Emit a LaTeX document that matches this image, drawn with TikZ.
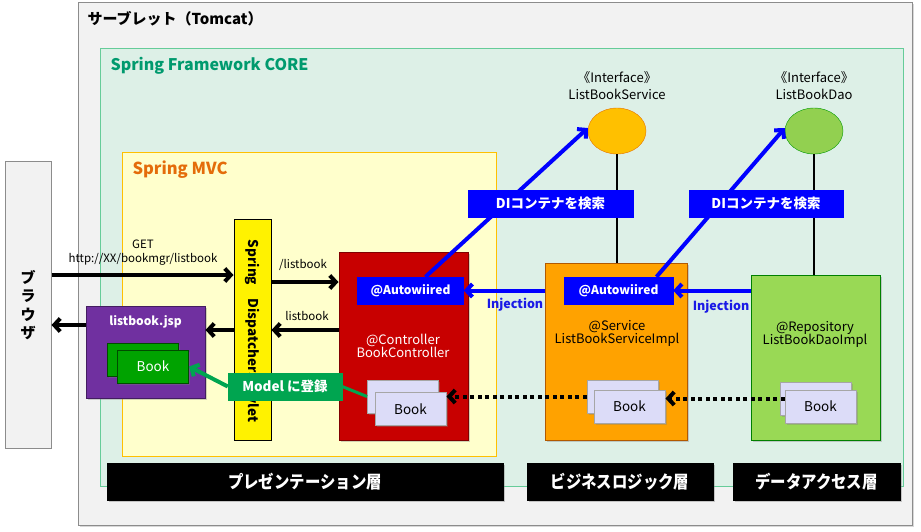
\documentclass[tikz,border=0pt]{standalone}
\usepackage{fontspec}
\setmainfont{Noto Sans CJK JP}
\newfontfamily\jpcond{Noto Sans CJK JP}[FakeStretch=0.88]
\usetikzlibrary{arrows.meta,shadows,calc,shapes.geometric}
\definecolor{outerfill}{HTML}{F2F2F2}
\definecolor{outerdraw}{HTML}{8C8C8C}
\definecolor{corefill}{HTML}{DDF0E7}
\definecolor{coredraw}{HTML}{66CC99}
\definecolor{coretext}{HTML}{009A6E}
\definecolor{mvcfill}{HTML}{FFFFCC}
\definecolor{mvcdraw}{HTML}{FFC000}
\definecolor{mvctext}{HTML}{E46C0A}
\definecolor{jspfill}{HTML}{7030A0}
\definecolor{bookgreen}{HTML}{00A300}
\definecolor{ctrlfill}{HTML}{C80000}
\definecolor{awblue}{HTML}{0000FF}
\definecolor{svcfill}{HTML}{FFA200}
\definecolor{repofill}{HTML}{99D955}
\definecolor{booklav}{HTML}{DCDCF8}
\definecolor{modelgreen}{HTML}{00A550}
\definecolor{ifsvcfill}{HTML}{FFC000}
\definecolor{ifdaofill}{HTML}{92D050}
\definecolor{injblue}{HTML}{1A1AE6}
\tikzset{
  x=1pt, y=-1pt,
  box/.style={draw, rectangle, inner sep=0pt},
  bevel/.style={box, line width=1pt, drop shadow={shadow xshift=1.5pt, shadow yshift=-1.5pt, opacity=0.35}},
  bookbox/.style={bevel, fill=booklav, draw=gray!70, minimum width=71pt, minimum height=33pt, font=\fontsize{13.5}{16}\selectfont},
  gbook/.style={bevel, fill=bookgreen, draw=green!30!black, minimum width=71pt, minimum height=33pt, text=white, font=\fontsize{13.5}{16}\selectfont},
  awbox/.style={box, fill=awblue, draw=awblue, minimum width=106pt, minimum height=27pt, text=white, font=\bfseries\fontsize{12}{15}\selectfont},
  dilabel/.style={box, fill=awblue, draw=awblue, minimum height=27pt, text=white, font=\bfseries\fontsize{13.5}{15}\selectfont},
  layer/.style={box, fill=black, draw=black, minimum height=37pt, text=white, font=\jpcond\bfseries\fontsize{17.5}{19}\selectfont, drop shadow={shadow xshift=2pt, shadow yshift=-2pt, opacity=0.4}},
  bk/.style={line width=4pt, -{Straight Barb[length=6pt, width=13pt]}},
  bluearr/.style={line width=4pt, draw=awblue, -{Straight Barb[length=6pt, width=13pt]}},
  dotarr/.style={line width=4pt, dash pattern=on 4pt off 3.5pt, -{Straight Barb[length=6pt, width=13pt]}},
  greenarr/.style={line width=4pt, draw=modelgreen, -{Straight Barb[length=6pt, width=13pt]}},
  small/.style={font=\fontsize{11.5}{13}\selectfont},
  mid/.style={font=\fontsize{13}{15}\selectfont, align=center},
}
\begin{document}
\begin{tikzpicture}
\useasboundingbox (0,0) rectangle (921,531);
\fill[white] (0,0) rectangle (921,531);
% containers
\node[box, fill=outerfill, draw=outerdraw, line width=1pt, minimum width=834pt, minimum height=523pt,
  drop shadow={shadow xshift=1.5pt, shadow yshift=-1.5pt, opacity=0.3}] (outer) at (495,263.5) {};
\node[anchor=west, font=\bfseries\fontsize{15}{17}\selectfont] (outert) at (84,19) {サーブレット（Tomcat）};
\node[box, fill=corefill, draw=coredraw, line width=1pt, minimum width=803pt, minimum height=438pt] (core) at (501.5,267) {};
\node[anchor=west, text=coretext, font=\bfseries\fontsize{16}{18}\selectfont] (coret) at (107,66) {Spring Framework CORE};
\node[box, fill=mvcfill, draw=mvcdraw, line width=1pt, minimum width=374pt, minimum height=304pt] (mvc) at (309,304) {};
\node[anchor=west, text=mvctext, font=\bfseries\fontsize{16.5}{18}\selectfont] (mvct) at (129,170) {Spring MVC};
% browser
\node[box, fill=outerfill, draw=outerdraw, line width=1pt, minimum width=46pt, minimum height=287pt] (browser) at (28,304.5) {};
\node[align=center, font=\bfseries\fontsize{15}{18.5}\selectfont] (browsert) at (28,305) {ブ\\ラ\\ウ\\ザ};
% layer labels
\node[layer, minimum width=396pt] (layer1) at (305,481.5) {プレゼンテーション層};
\node[layer, minimum width=186pt] (layer2) at (620,481.5) {ビジネスロジック層};
\node[layer, minimum width=167pt] (layer3) at (816.5,481.5) {データアクセス層};
% dispatcher
\node[box, fill=yellow, draw=black, line width=1pt, minimum width=37pt, minimum height=221pt] (disp) at (252.5,329.5) {};
\node[rotate=-90, font=\bfseries\fontsize{13.5}{15}\selectfont] (dispt) at (252.5,331) {Spring\quad DispatcherServlet};
% interfaces
\node[ellipse, draw=orange!90!black, fill=ifsvcfill, minimum width=58pt, minimum height=46pt, inner sep=0pt] (ifsvc) at (617,131) {};
\node[align=center, font=\fontsize{13}{17}\selectfont] (ifsvct) at (617,86) {《Interface》\\ListBookService};
\node[ellipse, draw=green!60!black, fill=ifdaofill, minimum width=58pt, minimum height=46pt, inner sep=0pt] (ifdao) at (814,131) {};
\node[align=center, font=\fontsize{13}{17}\selectfont] (ifdaot) at (814,86) {《Interface》\\ListBookDao};
% beans
\node[bevel, fill=ctrlfill, draw=red!50!black, minimum width=129pt, minimum height=188pt] (ctrl) at (403.5,346) {};
\node[bevel, fill=svcfill, draw=orange!70!black, minimum width=142pt, minimum height=177pt] (svc) at (616,351.5) {};
\node[bevel, fill=repofill, draw=green!50!black, minimum width=129pt, minimum height=165pt] (repo) at (815.5,357.5) {};
\node[bevel, fill=jspfill, draw=jspfill!60!black, minimum width=119pt, minimum height=92pt] (jsp) at (145.5,352) {};
\node[text=white, font=\bfseries\fontsize{12}{15}\selectfont] (jspt) at (145.5,322) {listbook.jsp};
% vertical interface lines
\draw[line width=1.5pt] (ifsvc.south) -- (ifsvc.south |- svc.north);
\draw[line width=1.5pt] (ifdao.south) -- (ifdao.south |- repo.north);
% autowired boxes
\node[awbox] (ctrlaw) at (410.5,290.5) {@Autowiired};
\node[awbox, minimum width=109pt] (svcaw) at (618.5,290.5) {@Autowiired};
% DI arrows
\draw[bluearr] ([xshift=15pt]ctrlaw.north) -- ([yshift=3pt]ifsvc.west);
\draw[bluearr] ([xshift=38pt]svcaw.north) -- ([yshift=3pt]ifdao.west);
\node[dilabel, minimum width=165pt] (di1) at (550.5,203.5) {DIコンテナを検索};
\node[dilabel, minimum width=154pt] (di2) at (766,203.5) {DIコンテナを検索};
% bean texts
\node[mid, text=white] (ctrlt) at (403,346) {@Controller\\[-2pt]BookController};
\node[mid] (svct) at (617,333) {@Service\\[-2pt]ListBookServiceImpl};
\node[mid] (repot) at (815,334) {@Repository\\[-2pt]ListBookDaoImpl};
% injection
\draw[bluearr] (svc.west |- ctrlaw.east) -- (ctrlaw.east);
\node[text=injblue, font=\bfseries\fontsize{12.5}{15}\selectfont] (inj1) at (515,305) {Injection};
\draw[bluearr] (repo.west |- svcaw.east) -- (svcaw.east);
\node[text=injblue, font=\bfseries\fontsize{12.5}{15}\selectfont] (inj2) at (721,307) {Injection};
% books
\node[gbook] (jspbookb) at (142.5,359.5) {};
\node[gbook] (jspbookf) at (153,366.5) {Book};
\node[bookbox] (ctrlbookb) at (403,396.5) {};
\node[bookbox] (ctrlbookf) at (410.5,409) {Book};
\node[bookbox] (svcbookb) at (622.5,396.5) {};
\node[bookbox] (svcbookf) at (629.5,406.5) {Book};
\node[bookbox] (repobookb) at (815.5,398.5) {};
\node[bookbox] (repobookf) at (820.5,406.5) {Book};
% model
\node[box, fill=modelgreen, draw=modelgreen, minimum width=114pt, minimum height=27pt, text=white, font=\bfseries\fontsize{13.5}{15}\selectfont] (model) at (285,386.5) {Model に登録};
\draw[line width=3pt, draw=modelgreen] (model.east) -- (ctrlbookb.west);
\draw[greenarr] (model.west) -- (jspbookf.east);
% dotted
\draw[dotarr] ([yshift=8pt]repobookf.west) -- ([yshift=8pt]svcbookf.east);
\draw[dotarr] (svcbookb.west) -- (ctrlbookf.east |- svcbookb.west);
% black flow arrows
\draw[bk] (browser.east |- 0,275) -- (disp.west |- 0,275);
\node[small] (get) at (143,244) {GET};
\node[small] (url) at (143,259) {http://XX/bookmgr/listbook};
\draw[bk] (disp.east |- 0,282) -- (ctrl.west |- 0,282);
\node[small] (lb1) at (303,265) {/listbook};
\draw[bk] (ctrl.west |- 0,330) -- (disp.east |- 0,330);
\node[small] (lb2) at (307,316) {listbook};
\draw[bk] (disp.west |- 0,330) -- (jsp.east |- 0,330);
\draw[bk] (jsp.west |- 0,325) -- (browser.east |- 0,325);
\end{tikzpicture}
\end{document}
